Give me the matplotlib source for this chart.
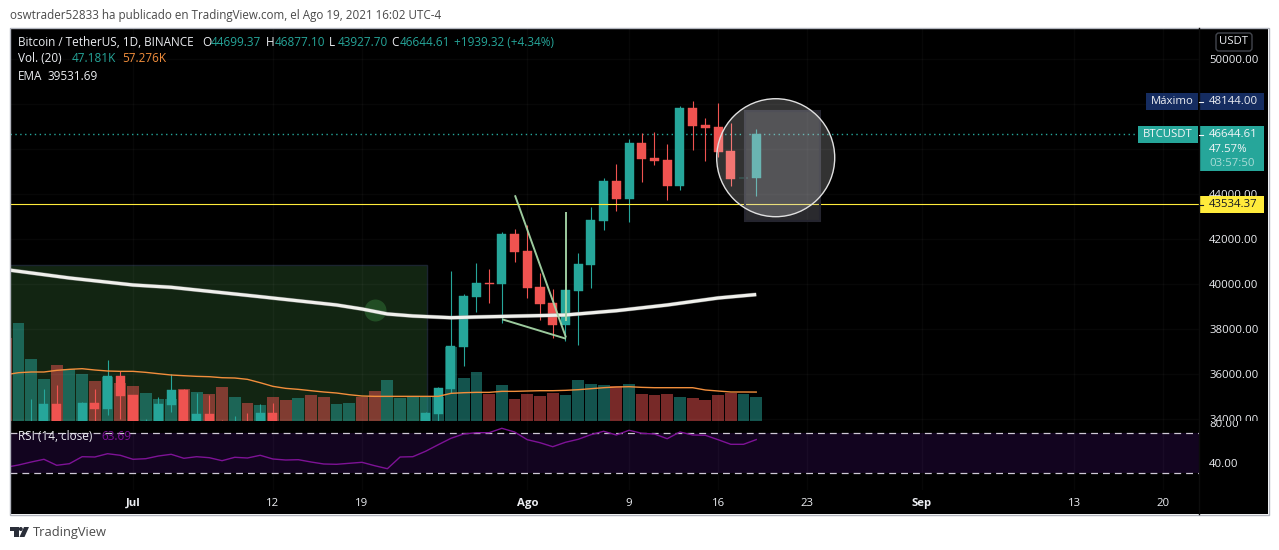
import matplotlib
matplotlib.use("Agg")
import matplotlib.pyplot as plt
from matplotlib.patches import Rectangle, Ellipse, Polygon, Circle, FancyBboxPatch
from matplotlib.transforms import Bbox

plt.rcParams['font.family'] = ['Open Sans', 'DejaVu Sans']

# ---- data (days counted from 1 Jul 2021) ----
candle_days = [-8, -7, -6, -4, -3, -2, -1, 0, 1, 2, 3, 4, 5, 6, 7, 8, 9, 10, 11, 23, 24,
               25, 26, 27, 28, 29, 30, 31, 32, 33, 34, 35, 36, 37, 38, 39, 40, 41, 42, 43, 44, 45, 46, 47, 48, 49]
opens  = [33500, 33000, 34668, 33200, 34712, 34445, 35912, 35067, 33000, 33700, 34623, 35290, 33200, 34223, 33800, 33000, 33800, 33500, 34268, 33500, 34223,
          35337, 37204, 39425, 40047, 40003, 42224, 41469, 39869, 39158, 38181, 39692, 40847, 42802, 44579, 43779, 46267, 45601, 45512, 44357, 47822, 47067, 46978, 45912, 44690, 44699.37]
highs  = [34890, 35334, 35512, 34756, 35334, 36622, 36134, 35080, 34001, 34979, 36000, 35334, 35156, 35067, 33957, 34134, 34268, 34668, 34712, 34300, 35423,
          40565, 39558, 40936, 40669, 42313, 42446, 42624, 40491, 39780, 39780, 41380, 43424, 44712, 45334, 46445, 46711, 46756, 46223, 47911, 48144, 47378, 48044, 47156, 44705, 46877.10]
lows   = [32000, 32000, 32500, 32800, 33500, 34179, 34001, 32800, 32500, 33400, 34312, 33100, 33000, 33000, 33000, 32800, 32600, 33300, 33000, 33300, 33912,
          35160, 36359, 38759, 39158, 38285, 40980, 39381, 38403, 37603, 37470, 37292, 39825, 42402, 43246, 42757, 44534, 45290, 43735, 44179, 45956, 45467, 45645, 44357, 44690, 43927.70]
closes = [33800, 34668, 33000, 34712, 34445, 35912, 35023, 33300, 33900, 34668, 35290, 33600, 34223, 33300, 33400, 33800, 33200, 34268, 33300, 34268, 35378,
          37248, 39469, 40047, 40003, 42224, 41424, 39825, 39114, 38181, 39736, 40891, 42846, 44579, 43779, 46267, 45556, 45467, 44357, 47822, 47022, 46934, 45867, 44668, 44705, 46644.61]

vol_days = list(range(-10, 50))
volumes = [164.7, 194.7, 122.7, 83.4, 111.4, 102.7, 93.4, 79.4, 88.1, 75.4, 69.4, 55.4, 43.4, 42.7, 62.7, 57.4, 53.4, 67.4, 47.4, 35.4,
           31.4, 47.4, 41.4, 45.4, 51.4, 47.4, 33.4, 35.4, 47.4, 59.4, 81.4, 45.4, 47.4, 47.4, 48.0, 147.4, 85.4, 97.4, 53.4, 71.4,
           43.4, 53.4, 49.4, 55.4, 51.4, 81.4, 73.4, 71.4, 69.4, 73.4, 53.4, 51.4, 53.4, 47.4, 45.4, 41.4, 51.4, 55.4, 53.4, 47.181]
vol_dirs = list("rgggrggrgrr" "gggrgrrgrgrrgrrggrr" "gggggggg" "r" "g" "rrrr" "gggg" "r" "g" "rrr" "g" "rrrr" "gg")
vol_ma = [92, 96, 97.4, 97.4, 100.7, 102.7, 104, 101.4, 99.4, 98.7, 98.7, 96.7, 94, 91.4, 90, 88.7, 88, 86, 85.4, 82.7,
          76, 68.7, 64.7, 62.7, 60, 57.4, 55.4, 52, 49.4, 48.7, 48.7, 48.7, 48.7, 48.7, 48.7, 54.7, 56, 56.7, 56.7, 58.7,
          58.7, 59.4, 60, 60, 60.7, 62, 64, 66, 67.4, 68, 66.7, 66, 66, 66, 66, 61.4, 59.4, 57.4, 57.4, 57.276]
rsi_days = list(range(-10, 50))
rsi = [36, 38.3, 41.3, 44, 38, 39.6, 46.6, 46.3, 49.6, 48, 44, 44.6, 47.3, 49, 45, 46.6, 45.6, 42.6, 46, 45.3,
       48, 44.3, 43.3, 43.6, 41.3, 39.3, 39, 40, 41, 37.6, 34.6, 46.3, 46.6, 52, 58.6, 65, 69.3, 70.6, 70.6, 75,
       71.3, 63.6, 60.6, 56.6, 61, 64, 68.6, 72, 68.3, 73, 70, 69.3, 64.6, 71.3, 68.3, 68, 63.6, 59, 59, 63.69]

ema_days = [-10, -5, 0, 3, 10, 16, 18, 20, 22, 25, 27, 34, 38, 42, 46, 49]
ema_vals = [40640, 40267, 39956, 39853, 39436, 39067, 38889, 38667, 38578, 38502, 38533, 38622, 38813, 39067, 39378, 39531.69]

price_ticks = [34000, 36000, 38000, 40000, 42000, 44000, 46000, 48000, 50000]
rsi_ticks = [40, 80]
time_ticks = [0, 11, 18, 31, 39, 46, 53, 62, 74, 81]
time_labels = ['Jul', '12', '19', 'Ago', '9', '16', '23', 'Sep', '13', '20']
bold_labels = ['Jul', 'Ago', 'Sep']

hline_price = 43534.37
last_price = 46644.61
zone = (-20, 23.09, 40844)
dot = (19, 38844)
trend_a = ([30.03, 34.04], [43942, 37622])
trend_b = ([29.03, 34.04], [38431, 37569])
trend_c = ([34.04, 34.04], [43200, 38369])
gray_box = (48.1, 54.0, 42800, 47702)
big_circle = (50.53, 45613, 4.64, 2622)

UP, DOWN = '#26a69a', '#ef5350'
GRID = (1, 1, 1, 0.03)
W, H = 1279, 550
fig = plt.figure(figsize=(W / 100, H / 100), dpi=100, facecolor='white')


def box(l, t, r, b):
    return [l / W, 1 - b / H, (r - l) / W, (b - t) / H]


XLIM = (-9.67, 83.81)
bg = fig.add_axes(box(10, 28, 1268, 514), zorder=0, facecolor='black')
bg.set_xticks([]); bg.set_yticks([])
for s in bg.spines.values():
    s.set_visible(False)

ax_vol = fig.add_axes(box(10, 28, 1199, 420.7), zorder=1, facecolor='none')
ax_price = fig.add_axes(box(10, 28, 1199, 420.7), zorder=2, facecolor='none')
ax_ma = fig.add_axes(box(10, 28, 1199, 420.7), zorder=3, facecolor='none')
ax_rsi = fig.add_axes(box(10, 420.7, 1199, 490), zorder=2, facecolor='none')
for a in (ax_vol, ax_price, ax_ma, ax_rsi):
    a.set_xlim(*XLIM)
    for s in a.spines.values():
        s.set_visible(False)
for a in (ax_vol, ax_ma):
    a.set_ylim(0, 785.4)
    a.set_xticks([]); a.set_yticks([])

# price pane
ax_price.set_ylim(33924.4, 51377.8)
ax_vol.add_patch(Rectangle((zone[0], 33000), zone[1] - zone[0], zone[2] - 33000, transform=ax_price.transData,
                           facecolor='#122512', edgecolor='#1b2430', lw=1, zorder=0))
for d in time_ticks:
    ax_vol.axvline(d, color=GRID, lw=1, zorder=0.5)
for p in price_ticks:
    ax_price.axhline(p, color=GRID, lw=1, zorder=0.5)

bar_colors = [UP if c == 'g' else DOWN for c in vol_dirs]
ax_vol.bar(vol_days, volumes, width=0.93, color=bar_colors, alpha=0.5, lw=0, zorder=2)

cols = [UP if c >= o else DOWN for o, c in zip(opens, closes)]
ax_price.vlines(candle_days, lows, highs, colors=cols, lw=0.8, zorder=2)
ax_price.bar(candle_days, [abs(c - o) for o, c in zip(opens, closes)], bottom=[min(o, c) for o, c in zip(opens, closes)],
             width=0.71, color=cols, edgecolor=cols, lw=0.3, zorder=3)

ax_price.axhline(last_price, color=UP, lw=1, ls=(0, (1, 2.5)), zorder=1.5)
ax_price.axhline(hline_price, color='#ffeb3b', lw=0.8, zorder=4)
ax_price.scatter([dot[0]], [dot[1]], s=250, color='#245528', alpha=0.85, lw=0, zorder=4)
ax_price.plot(ema_days, ema_vals, color='#8f928f', lw=3.0, alpha=0.6, zorder=5, solid_capstyle='butt', solid_joinstyle='round')
ax_price.plot(ema_days, ema_vals, color='#f0f0ec', lw=2.3, zorder=5.1, solid_capstyle='butt', solid_joinstyle='round')
for seg in (trend_a, trend_b, trend_c):
    ax_price.plot(seg[0], seg[1], color='#a5d6a7', lw=1.4, alpha=0.95, zorder=6, solid_capstyle='butt')

ax_price.add_patch(Rectangle((gray_box[0], gray_box[2]), gray_box[1] - gray_box[0], gray_box[3] - gray_box[2],
                             facecolor=(0.62, 0.62, 0.68, 0.27), edgecolor='#24242e', lw=1.5, zorder=7))
ax_price.add_patch(Ellipse((big_circle[0], big_circle[1]), big_circle[2] * 2, big_circle[3] * 2,
                           facecolor=(1, 1, 1, 0.2), edgecolor=(0.88, 0.88, 0.88, 1), lw=1.0, zorder=8))

ax_ma.plot(vol_days, vol_ma, color='#f28e3c', lw=1.0, zorder=3)

# axis labels
FS = 8.2
LFS = 8.5
TXT = '#eceef2'
ax_price.yaxis.tick_right()
ax_price.set_yticks(price_ticks, [f'{p:.2f}' for p in price_ticks])
ax_price.tick_params(axis='y', length=0, pad=7.2, labelsize=FS, labelcolor=TXT)
ax_price.set_xticks([])
for lab in ax_price.get_yticklabels():
    lab.set_clip_on(True)
    lab.set_clip_box(Bbox([[1199, H - 420.7], [1279, H]]))

# RSI pane
ax_rsi.set_ylim(13.3, 82.6)
ax_rsi.axhspan(30, 70, color='#12041f', lw=0, zorder=0)
for d in time_ticks:
    ax_rsi.axvline(d, color=GRID, lw=1, zorder=0.5)
ax_rsi.axhline(70, color='#cfc9d6', lw=0.9, ls=(0, (5.5, 4)), zorder=1)
ax_rsi.axhline(30, color='#cfc9d6', lw=0.9, ls=(0, (5.5, 4)), zorder=1)
ax_rsi.plot(rsi_days, rsi, color='#7e1296', lw=1.0, zorder=2)
ax_rsi.yaxis.tick_right()
ax_rsi.set_yticks(rsi_ticks, [f'{p:.2f}' for p in rsi_ticks])
ax_rsi.tick_params(axis='y', length=0, pad=7.2, labelsize=FS, labelcolor=TXT)
for lab in ax_rsi.get_yticklabels():
    lab.set_clip_on(True)
    lab.set_clip_box(Bbox([[1199, 0], [1279, H - 420.7]]))
ax_rsi.set_xticks(time_ticks, time_labels)
ax_rsi.tick_params(axis='x', length=0, pad=5.5, labelsize=FS, labelcolor=TXT)
for lab in ax_rsi.get_xticklabels():
    if lab.get_text() in bold_labels:
        lab.set_fontweight('bold')

# overlay: chrome, legends, badges
ov = fig.add_axes([0, 0, 1, 1], zorder=5, facecolor='none')
ov.set_xlim(0, W); ov.set_ylim(H, 0); ov.axis('off')
ov.add_patch(Rectangle((9.5, 27.5), 1259, 487, fill=False, edgecolor='#b2b5be', lw=1))
ov.plot([1199, 1199], [28, 514], color='#0c0c0c', lw=1)


def t(x, y, s, c=TXT, fs=FS, ha='left', **kw):
    ov.text(x, y, s, color=c, fontsize=fs, ha=ha, va='center', **kw)


t(10, 15, 'oswtrader52833 ha publicado en TradingView.com, el Ago 19, 2021 16:02 UTC-4', c='#4a4a4a', fs=8.4)
t(18, 42, 'Bitcoin / TetherUS, 1D, BINANCE', fs=LFS)
for x, k, v in [(202, 'O', '44699.37'), (266, 'H', '46877.10'), (329, 'L', '43927.70'), (391, 'C', '46644.61')]:
    t(x, 42, k, fs=LFS)
    t(x + 8.5, 42, v, c=UP, fs=LFS)
t(454, 42, '+1939.32 (+4.34%)', c=UP, fs=LFS)
t(18, 59, 'Vol. (20)', fs=LFS)
t(72, 59, '47.181K', c=UP, fs=LFS)
t(122, 59, '57.276K', c='#f28e3c', fs=LFS)
t(18, 76, 'EMA', fs=LFS)
t(47, 76, '39531.69', fs=LFS)
t(18, 437, 'RSI (14, close)', fs=LFS)
t(101, 437, '63.69', c='#7e1296', fs=LFS)

NAVY = '#152c60'
ov.add_patch(Rectangle((1146, 93), 52, 17, color=NAVY, lw=0))
ov.add_patch(Rectangle((1199, 93), 65, 17, color=NAVY, lw=0))
t(1172, 101.5, 'Máximo', ha='center')
t(1209, 101.5, '48144.00')
ov.plot([1199, 1203], [101.5, 101.5], color=TXT, lw=0.8)

ov.add_patch(Rectangle((1138, 126), 60, 17, color=UP, lw=0))
ov.add_patch(Rectangle((1199, 126), 65, 45, color=UP, lw=0))
t(1168, 134.5, 'BTCUSDT', c='#f4f6f8', ha='center')
t(1209, 134.5, '46644.61', c='#f4f6f8')
t(1209, 149, '47.57%', c='#f4f6f8')
t(1209, 163, '03:57:50', c='#a9dcd7')
ov.plot([1199, 1203], [134.5, 134.5], color='#f4f6f8', lw=0.8)

ov.add_patch(Rectangle((1199, 196), 65, 17, color='#ffeb3b', lw=0))
t(1209, 204.5, '43534.37', c='#131722')
ov.plot([1199, 1203], [204.5, 204.5], color='#131722', lw=0.8)

ov.add_patch(FancyBboxPatch((1218, 35), 32, 14, boxstyle='round,pad=2,rounding_size=3', facecolor='black', edgecolor='#43464e', lw=1))
t(1234, 42, 'USDT', ha='center')

# footer logo and brand
LOGO = '#2a2e39'
ov.add_patch(Polygon([(10, 527), (18.5, 527), (18.5, 537), (14, 537), (14, 531), (10, 531)], color=LOGO, lw=0))
ov.add_patch(Circle((20.8, 529), 2, color=LOGO, lw=0))
ov.add_patch(Polygon([(24, 527), (29, 527), (24.5, 537), (19.5, 537)], color=LOGO, lw=0))
t(33, 532.5, 'TradingView', c='#4a4a4a', fs=9.3)

fig.savefig('out.png', dpi=100, facecolor='white')
